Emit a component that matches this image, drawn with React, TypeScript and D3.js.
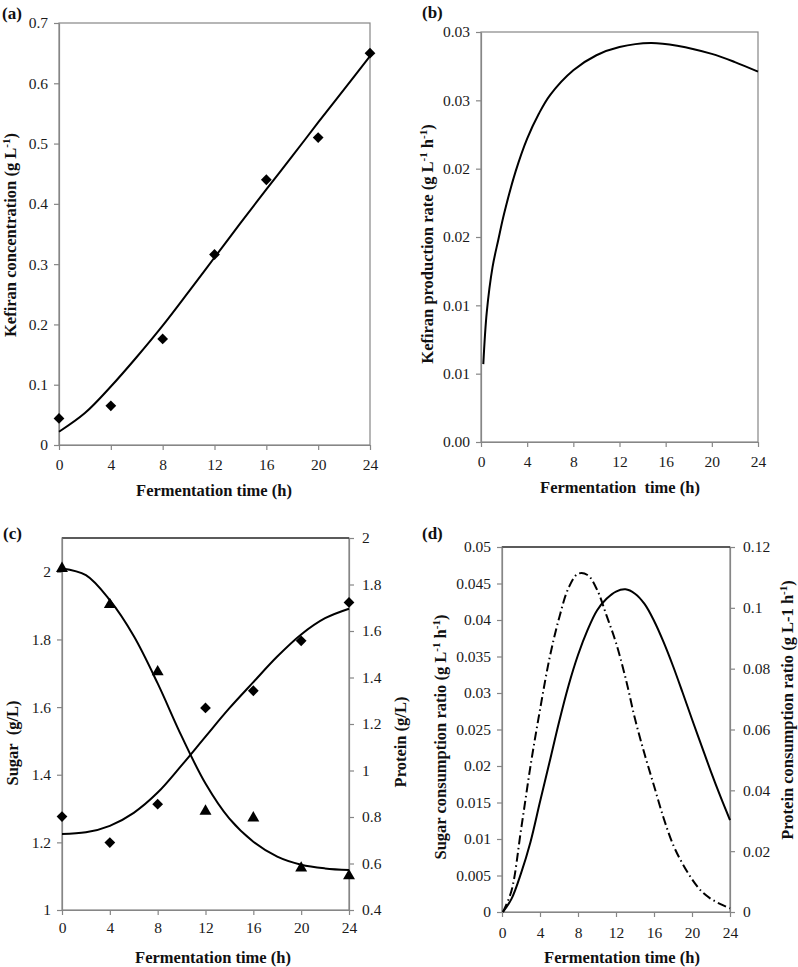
import { useEffect, useRef } from "react";
import * as d3 from "d3";

const FONT = "Liberation Serif, Tinos, Times New Roman, Times, DejaVu Serif, serif";
const GRAY = "#868686";

// shared x ticks (fermentation time, h)
const timeTicks = [0, 4, 8, 12, 16, 20, 24];
const sampleHours = [0, 4, 8, 12, 16, 20, 24];
const fitHours = [0, 2, 4, 6, 8, 10, 12, 14, 16, 18, 20, 22, 24];

// (a) kefiran concentration
const kefiranObs = [0.044, 0.065, 0.176, 0.316, 0.44, 0.51, 0.65];
const kefiranFit = [0.022, 0.053, 0.097, 0.146, 0.198, 0.254, 0.311, 0.368, 0.424, 0.479, 0.535, 0.59, 0.645];
const kefiranTicks = [0, 0.1, 0.2, 0.3, 0.4, 0.5, 0.6, 0.7];

// (b) kefiran production rate
const rateHours = [0.2, 0.5, 1, 1.5, 2, 3, 4, 5, 6, 8, 10, 12, 14.7, 17, 20, 22, 24];
const rateFit = [0.0057, 0.0095, 0.0128, 0.0148, 0.0167, 0.0198, 0.0222, 0.024, 0.0254, 0.0272, 0.0283, 0.0289, 0.0292, 0.029, 0.0284, 0.0278, 0.0271];
const rateTicks = [0, 0.005, 0.01, 0.015, 0.02, 0.025, 0.03];
const rateTickLabels = ["0.00", "0.01", "0.01", "0.02", "0.02", "0.03", "0.03"];

// (c) sugar / protein
const sugarObs = [2.01, 1.903, 1.704, 1.292, 1.272, 1.124, 1.101];
const proteinObs = [0.802, 0.69, 0.855, 1.269, 1.343, 1.558, 1.723];
const sugarFit = [2.01, 1.99, 1.916, 1.81, 1.67, 1.514, 1.374, 1.27, 1.202, 1.158, 1.134, 1.123, 1.118];
const proteinFit = [0.727, 0.734, 0.762, 0.818, 0.905, 1.022, 1.146, 1.268, 1.38, 1.49, 1.585, 1.655, 1.696];
const sugarTicks = [1, 1.2, 1.4, 1.6, 1.8, 2];
const proteinTicks = [0.4, 0.6, 0.8, 1, 1.2, 1.4, 1.6, 1.8, 2];

// (d) consumption ratios
const ratioHours = [0.1, 1, 2, 3, 4, 5, 6, 7, 8, 9, 10, 11, 12, 13, 14, 15, 16, 17, 18, 19, 20, 21, 22, 23, 24];
const sugarRatio = [0, 0.0018, 0.0053, 0.0096, 0.0151, 0.0205, 0.026, 0.031, 0.0352, 0.0386, 0.0413, 0.0429, 0.0439, 0.0442, 0.0436, 0.0422, 0.0399, 0.037, 0.0337, 0.0301, 0.0264, 0.0228, 0.0192, 0.0158, 0.0126];
const proteinRatio = [0, 0.007, 0.027, 0.048, 0.0665, 0.0834, 0.0965, 0.1065, 0.1112, 0.1108, 0.106, 0.0975, 0.0885, 0.077, 0.0635, 0.052, 0.0415, 0.031, 0.0222, 0.0159, 0.0108, 0.0068, 0.0043, 0.0026, 0.0012];
const sugarRatioTicks = [0, 0.005, 0.01, 0.015, 0.02, 0.025, 0.03, 0.035, 0.04, 0.045, 0.05];
const proteinRatioTicks = [0, 0.02, 0.04, 0.06, 0.08, 0.1, 0.12];

type Box = { left: number; right: number; top: number; bottom: number };

const Axis = ({ axis, transform }: { axis: any; transform: string }) => {
    const ref = useRef<SVGGElement>(null);
    useEffect(() => {
        if (!ref.current) return;
        const g = d3.select(ref.current);
        g.selectAll("*").remove();
        g.call(axis);
        g.attr("font-family", null).attr("font-size", null);
        g.select(".domain").attr("stroke", GRAY).attr("stroke-width", 1.2);
        g.selectAll(".tick line").attr("stroke", GRAY).attr("stroke-width", 1.2);
        g.selectAll(".tick text")
            .attr("fill", "#1a1a1a")
            .style("font-family", FONT)
            .style("font-size", "15.5px");
    });
    return <g ref={ref} transform={transform} />;
};

type Part = [string, boolean];

const Title = ({ x, y, rotate, parts }: { x: number; y: number; rotate?: boolean; parts: Part[] }) => (
    <text
        transform={`translate(${x},${y})${rotate ? " rotate(-90)" : ""}`}
        textAnchor="middle"
        fill="#111"
        style={{ whiteSpace: "pre", fontFamily: FONT, fontWeight: "bold", fontSize: "16.5px" }}
    >
        {parts.map(([t, sup], i) => {
            const prevSup = i > 0 && parts[i - 1][1];
            const dy = i === 0 ? 5.5 : sup ? -6 : prevSup ? 6 : 0;
            return (
                <tspan key={i} dy={dy} style={sup ? { fontSize: "11px" } : undefined}>
                    {t}
                </tspan>
            );
        })}
    </text>
);

const PanelTag = ({ x, y, label }: { x: number; y: number; label: string }) => (
    <text x={x} y={y} fill="#111" style={{ fontFamily: FONT, fontWeight: "bold", fontSize: "17px" }}>
        {label}
    </text>
);

const diamond = d3.symbol(d3.symbolSquare, 58)() as string;
const triangle = d3.symbol(d3.symbolTriangle, 62)() as string;

const smooth = d3.curveCatmullRom.alpha(0.5);

const App = () => {
    const A: Box = { left: 59, right: 370, top: 23, bottom: 445 };
    const B: Box = { left: 481, right: 758, top: 32, bottom: 442 };
    const C: Box = { left: 62, right: 349, top: 538, bottom: 910 };
    const D: Box = { left: 502, right: 730, top: 547, bottom: 912 };

    // (a)
    const xa = d3.scaleLinear([0, 24], [A.left, A.right]);
    const ya = d3.scaleLinear([0, 0.7], [A.bottom, A.top]);
    const lineA = d3
        .line<number>()
        .x((_, i) => xa(fitHours[i]))
        .y((d) => ya(d))
        .curve(smooth);

    // (b)
    const xb = d3.scaleLinear([0, 24], [B.left, B.right]);
    const yb = d3.scaleLinear([0, 0.03], [B.bottom, B.top]);
    const lineB = d3
        .line<number>()
        .x((_, i) => xb(rateHours[i]))
        .y((d) => yb(d))
        .curve(smooth);

    // (c)
    const xc = d3.scaleLinear([0, 24], [C.left, C.right]);
    const ycS = d3.scaleLinear([1, 2.1], [C.bottom, C.top]);
    const ycP = d3.scaleLinear([0.4, 2], [C.bottom, C.top]);
    const lineCS = d3
        .line<number>()
        .x((_, i) => xc(fitHours[i]))
        .y((d) => ycS(d))
        .curve(smooth);
    const lineCP = d3
        .line<number>()
        .x((_, i) => xc(fitHours[i]))
        .y((d) => ycP(d))
        .curve(smooth);

    // (d)
    const xd = d3.scaleLinear([0, 24], [D.left, D.right]);
    const ydS = d3.scaleLinear([0, 0.05], [D.bottom, D.top]);
    const ydP = d3.scaleLinear([0, 0.12], [D.bottom, D.top]);
    const lineDS = d3
        .line<number>()
        .x((_, i) => xd(ratioHours[i]))
        .y((d) => ydS(d))
        .curve(smooth);
    const lineDP = d3
        .line<number>()
        .x((_, i) => xd(ratioHours[i]))
        .y((d) => ydP(d))
        .curve(smooth);

    const xAxis = (x: d3.ScaleLinear<number, number>, pad: number) =>
        d3.axisBottom(x).tickValues(timeTicks).tickSize(5).tickSizeOuter(0).tickPadding(pad).tickFormat((d) => String(d));
    const yLeft = (y: d3.ScaleLinear<number, number>, ticks: number[], labels?: string[]) =>
        d3
            .axisLeft(y)
            .tickValues(ticks)
            .tickSize(5)
            .tickSizeOuter(0)
            .tickPadding(6)
            .tickFormat((d, i) => (labels ? labels[i] : String(d)));
    const yRight = (y: d3.ScaleLinear<number, number>, ticks: number[]) =>
        d3.axisRight(y).tickValues(ticks).tickSize(5).tickSizeOuter(0).tickPadding(8).tickFormat((d) => String(d));

    return (
        <svg width={798} height={967} style={{ position: "absolute", left: 0, top: 0, background: "#fff" }}>
            <rect width={798} height={967} fill="#fff" />

            {/* (a) */}
            <rect x={A.left} y={A.top} width={A.right - A.left} height={A.bottom - A.top} fill="none" stroke={GRAY} strokeWidth={1.2} />
            <Axis axis={xAxis(xa, 9)} transform={`translate(0,${A.bottom})`} />
            <Axis axis={yLeft(ya, kefiranTicks)} transform={`translate(${A.left},0)`} />
            <path d={lineA(kefiranFit) ?? ""} fill="none" stroke="#000" strokeWidth={2} />
            {kefiranObs.map((v, i) => (
                <path key={i} d={diamond} transform={`translate(${xa(sampleHours[i])},${ya(v)}) rotate(45)`} fill="#000" />
            ))}
            <PanelTag x={2} y={19} label="(a)" />
            <Title x={10} y={235} rotate parts={[["Kefiran concentration (g L", false], ["-1", true], [")", false]]} />
            <Title x={214} y={490} parts={[["Fermentation time (h)", false]]} />

            {/* (b) */}
            <rect x={B.left} y={B.top} width={B.right - B.left} height={B.bottom - B.top} fill="none" stroke={GRAY} strokeWidth={1.2} />
            <Axis axis={xAxis(xb, 9)} transform={`translate(0,${B.bottom})`} />
            <Axis axis={yLeft(yb, rateTicks, rateTickLabels)} transform={`translate(${B.left},0)`} />
            <path d={lineB(rateFit) ?? ""} fill="none" stroke="#000" strokeWidth={2} />
            <PanelTag x={422} y={18} label="(b)" />
            <Title
                x={427}
                y={244}
                rotate
                parts={[["Kefiran production rate (g L", false], ["-1", true], [" h", false], ["-1", true], [")", false]]}
            />
            <Title x={620} y={487} parts={[["Fermentation  time (h)", false]]} />

            {/* (c) */}
            <rect x={C.left} y={C.top} width={C.right - C.left} height={C.bottom - C.top} fill="none" stroke={GRAY} strokeWidth={1.2} />
            <line x1={C.left} x2={C.right} y1={C.top} y2={C.top} stroke="#000" strokeWidth={1.2} />
            <Axis axis={xAxis(xc, 7)} transform={`translate(0,${C.bottom})`} />
            <Axis axis={yLeft(ycS, sugarTicks)} transform={`translate(${C.left},0)`} />
            <Axis axis={yRight(ycP, proteinTicks)} transform={`translate(${C.right},0)`} />
            <path d={lineCS(sugarFit) ?? ""} fill="none" stroke="#000" strokeWidth={2} />
            <path d={lineCP(proteinFit) ?? ""} fill="none" stroke="#000" strokeWidth={2} />
            {proteinObs.map((v, i) => (
                <path key={"p" + i} d={diamond} transform={`translate(${xc(sampleHours[i])},${ycP(v)}) rotate(45)`} fill="#000" />
            ))}
            {sugarObs.map((v, i) => (
                <path key={"s" + i} d={triangle} transform={`translate(${xc(sampleHours[i])},${ycS(v)})`} fill="#000" />
            ))}
            <PanelTag x={3} y={539} label="(c)" />
            <Title x={12} y={743} rotate parts={[["Sugar  (g/L)", false]]} />
            <Title x={400} y={742} rotate parts={[["Protein (g/L)", false]]} />
            <Title x={213} y={957} parts={[["Fermentation time (h)", false]]} />

            {/* (d) */}
            <rect x={D.left} y={D.top} width={D.right - D.left} height={D.bottom - D.top} fill="none" stroke={GRAY} strokeWidth={1.2} />
            <line x1={D.left} x2={D.right} y1={D.top} y2={D.top} stroke="#000" strokeWidth={1.2} />
            <Axis axis={xAxis(xd, 10)} transform={`translate(0,${D.bottom})`} />
            <Axis axis={yLeft(ydS, sugarRatioTicks)} transform={`translate(${D.left},0)`} />
            <Axis axis={yRight(ydP, proteinRatioTicks)} transform={`translate(${D.right},0)`} />
            <path d={lineDS(sugarRatio) ?? ""} fill="none" stroke="#000" strokeWidth={2} />
            <path
                d={lineDP(proteinRatio) ?? ""}
                fill="none"
                stroke="#000"
                strokeWidth={2}
                strokeDasharray="9,3.5,1.5,3.5"
            />
            <PanelTag x={422} y={539} label="(d)" />
            <Title
                x={440}
                y={737}
                rotate
                parts={[["Sugar consumption ratio (g L", false], ["-1", true], [" h", false], ["-1", true], [")", false]]}
            />
            <Title
                x={787}
                y={710}
                rotate
                parts={[["Protein consumption ratio (g L-1 h", false], ["-1", true], [")", false]]}
            />
            <Title x={622} y={957} parts={[["Fermentation time (h)", false]]} />
        </svg>
    );
};

export default App;
